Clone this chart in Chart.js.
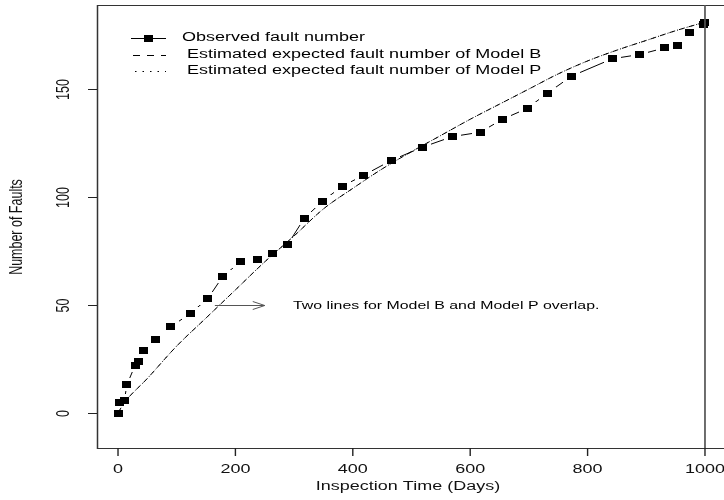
<!DOCTYPE html>
<html>
<head>
<meta charset="utf-8">
<script src="https://cdn.jsdelivr.net/npm/chart.js@4.4.1/dist/chart.umd.min.js"></script>
<style>
  html, body { margin: 0; padding: 0; background: #fff; }
  #c { display: block; }
</style>
</head>
<body>
<canvas id="c" width="724" height="500"></canvas>
<script>
// observed fault counts (days, faults)
const obsDays = [0, 3, 11, 15, 29, 35, 43, 64, 90, 123, 153, 178, 208, 237, 263, 289, 317, 348, 382, 418,
  466, 518, 570, 617, 655, 697, 731, 773, 842, 889, 931, 953, 973, 997, 1000];
const obsFaults = [0, 5, 6, 13, 22, 24, 29, 34, 40, 46, 53, 63, 70, 71, 74, 78, 90, 98, 105, 110,
  117, 123, 128, 130, 136, 141, 148, 156, 164, 166, 169, 170, 176, 180, 181];

// estimated expected fault number (the two models overlap)
const modelDays = [0, 10, 50, 100, 150, 200, 250, 300, 350, 400, 450, 500, 550, 600, 650, 700, 750, 800, 850, 900, 950, 1000];
const modelB = [0, 4.5, 16, 31, 44, 57, 70, 82, 94.5, 104, 113, 121, 128.5, 136, 143, 150, 157, 163, 168, 172.5, 177, 181];
const modelP = [0, 4.5, 16, 31, 44, 57, 70, 82, 94.5, 104, 113, 121, 128.5, 136, 143, 150, 157, 163, 168, 172.5, 177, 181];

const xTicks = [0, 200, 400, 600, 800, 1000];
const yTicks = [0, 50, 100, 150];

const legendLabels = ['Observed fault number', ' Estimated expected fault number of Model B', ' Estimated expected fault number of Model P'];
const noteText = 'Two lines for Model B and Model P overlap.';

const FONT = '"Liberation Sans", Arial, Helvetica, sans-serif';
// the picture is stretched sideways, text too
const SX = 1.5, SY = 1.04;

const toXY = (xs, ys) => xs.map((x, i) => ({ x: x, y: ys[i] }));

function box(w, h, fill) {
    const cv = document.createElement('canvas');
    cv.width = w;
    cv.height = h;
    const c = cv.getContext('2d');
    c.fillStyle = fill;
    c.fillRect(0, 0, w, h);
    return cv;
}
const squareMark = box(9, 7, '#000');
const gapMark = box(17, 13, '#fff');

function text(ctx, str, x, y, size, align, rot) {
    ctx.save();
    ctx.translate(x, y);
    ctx.scale(SX, SY);
    if (rot) ctx.rotate(-Math.PI / 2);
    ctx.font = size + 'px ' + FONT;
    ctx.textAlign = align;
    ctx.textBaseline = 'middle';
    ctx.fillText(str, 0, 0);
    ctx.restore();
}

const decorations = {
    id: 'decorations',
    afterDraw(chart) {
        const { ctx, chartArea: a, scales: { x, y } } = chart;
        ctx.save();

        // frame (right side falls outside the picture)
        ctx.strokeStyle = '#333';
        ctx.lineWidth = 1.2;
        ctx.beginPath();
        ctx.moveTo(724, a.top + 0.5);
        ctx.lineTo(a.left + 0.5, a.top + 0.5);
        ctx.stroke();
        ctx.beginPath();
        ctx.moveTo(a.left + 0.5, a.bottom + 0.5);
        ctx.lineTo(724, a.bottom + 0.5);
        ctx.stroke();
        ctx.lineWidth = 1.5;
        ctx.beginPath();
        ctx.moveTo(a.left + 0.5, a.top);
        ctx.lineTo(a.left + 0.5, a.bottom + 1);
        ctx.stroke();

        // vertical line at day 1000
        ctx.strokeStyle = '#555';
        ctx.lineWidth = 1.7;
        const vx = x.getPixelForValue(1000);
        ctx.beginPath();
        ctx.moveTo(vx, a.top);
        ctx.lineTo(vx, a.bottom);
        ctx.stroke();

        // axes ticks + labels
        ctx.strokeStyle = '#222';
        ctx.fillStyle = '#111';
        xTicks.forEach(v => {
            const px = x.getPixelForValue(v);
            ctx.lineWidth = 1.4;
            ctx.beginPath();
            ctx.moveTo(px, a.bottom);
            ctx.lineTo(px, a.bottom + 8);
            ctx.stroke();
            text(ctx, String(v), px, a.bottom + 22, 12, 'center', false);
        });
        yTicks.forEach(v => {
            const py = Math.round(y.getPixelForValue(v)) + 0.5;
            ctx.lineWidth = 1;
            ctx.beginPath();
            ctx.moveTo(a.left - 9, py);
            ctx.lineTo(a.left, py);
            ctx.stroke();
            text(ctx, String(v), a.left - 33, py, 12, 'center', true);
        });

        // axis titles
        text(ctx, 'Inspection Time (Days)', 408, 487, 12, 'center', false);
        text(ctx, 'Number of Faults', 17, 227, 12, 'center', true);

        // legend
        ctx.strokeStyle = '#000';
        ctx.fillStyle = '#000';
        const rows = [38, 55, 71];
        ctx.lineWidth = 1;
        ctx.beginPath();
        ctx.moveTo(131, rows[0] + 0.5);
        ctx.lineTo(166, rows[0] + 0.5);
        ctx.stroke();
        ctx.drawImage(squareMark, 144, rows[0] - 3);
        ctx.setLineDash([7, 7]);
        ctx.beginPath();
        ctx.moveTo(133, rows[1] + 0.5);
        ctx.lineTo(166, rows[1] + 0.5);
        ctx.stroke();
        ctx.setLineDash([1.5, 6]);
        ctx.beginPath();
        ctx.moveTo(135, rows[2] + 0.5);
        ctx.lineTo(166, rows[2] + 0.5);
        ctx.stroke();
        ctx.setLineDash([]);
        legendLabels.forEach((s, i) => text(ctx, s, 182, rows[i], 12, 'left', false));

        // overlap note with arrow
        const ax0 = x.getPixelForValue(165), ax1 = x.getPixelForValue(250);
        const ay = Math.round(y.getPixelForValue(50)) + 0.5;
        ctx.strokeStyle = '#555';
        ctx.lineWidth = 1;
        ctx.beginPath();
        ctx.moveTo(ax0, ay);
        ctx.lineTo(ax1, ay);
        ctx.moveTo(ax1 - 12, ay - 4);
        ctx.lineTo(ax1, ay);
        ctx.lineTo(ax1 - 12, ay + 4);
        ctx.stroke();
        ctx.fillStyle = '#000';
        text(ctx, noteText, x.getPixelForValue(298), ay, 10.6, 'left', false);

        ctx.restore();
    }
};

new Chart(document.getElementById('c'), {
    type: 'line',
    data: {
        datasets: [
            {
                label: 'Model B',
                data: toXY(modelDays, modelB),
                borderColor: '#000',
                borderWidth: 1,
                borderDash: [6, 4],
                pointRadius: 0,
                cubicInterpolationMode: 'monotone',
                order: 2,
            },
            {
                label: 'Model P',
                data: toXY(modelDays, modelP),
                borderColor: '#000',
                borderWidth: 1,
                borderDash: [1, 4],
                borderDashOffset: 2,
                pointRadius: 0,
                cubicInterpolationMode: 'monotone',
                order: 3,
            },
            {
                // line between observed points (type "b": gaps around the marks)
                label: 'Observed line',
                data: toXY(obsDays, obsFaults),
                borderColor: '#000',
                borderWidth: 1,
                pointRadius: 0,
                tension: 0,
                order: 5,
            },
            {
                label: 'gaps',
                data: toXY(obsDays, obsFaults),
                showLine: false,
                pointStyle: gapMark,
                pointRadius: 8,
                order: 4,
            },
            {
                label: 'Observed fault number',
                data: toXY(obsDays, obsFaults),
                showLine: false,
                pointStyle: squareMark,
                pointRadius: 5,
                order: 1,
            },
        ],
    },
    options: {
        responsive: false,
        animation: false,
        layout: { autoPadding: false, padding: { left: 97, top: 5, right: 0, bottom: 52 } },
        scales: {
            x: { type: 'linear', min: -35.8, max: 1032.4, display: false },
            y: { type: 'linear', min: -16.2, max: 188.9, display: false },
        },
        plugins: {
            legend: { display: false },
            tooltip: { enabled: false },
        },
    },
    plugins: [decorations],
});
</script>
</body>
</html>
